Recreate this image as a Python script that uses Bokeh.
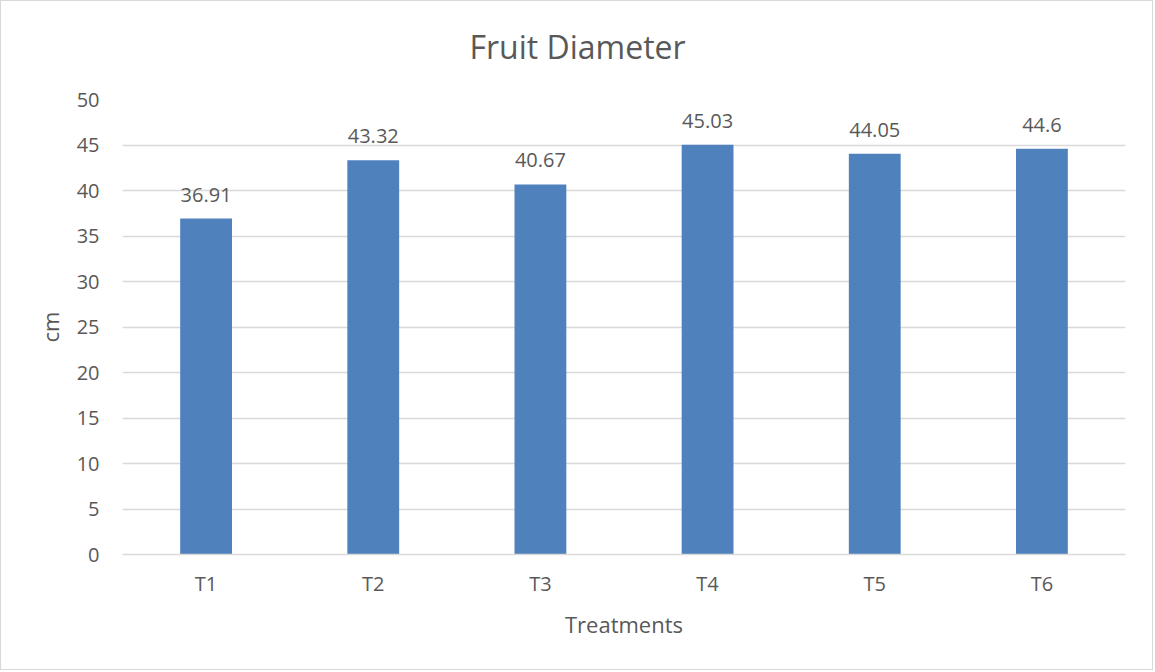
from bokeh.plotting import figure
from bokeh.models import ColumnDataSource, LabelSet, Title, FactorRange, Range1d, SingleIntervalTicker
from bokeh.core.properties import value
from bokeh.embed import file_html
from bokeh.resources import INLINE

treatments = ["T1", "T2", "T3", "T4", "T5", "T6"]
diameter = [36.91, 43.32, 40.67, 45.03, 44.05, 44.6]
labels = ["36.91", "43.32", "40.67", "45.03", "44.05", "44.6"]
title_text = "Fruit Diameter"

FONT = "Open Sans"
GRAY = "#595959"

src = ColumnDataSource(dict(x=treatments, y=diameter, lab=labels))

p = figure(width=1153, height=670, x_range=FactorRange(*treatments, range_padding=0),
           y_range=Range1d(0, 50), output_backend="svg", toolbar_location=None,
           min_border_left=121, min_border_right=29,
           min_border_top=98, min_border_bottom=117)
p.styles = {"border": "1px solid #d9d9d9"}

# white spacer right above the frame, then the chart title above it
spacer = Title(text=".", text_font_size="1px", text_color="white", standoff=10)
p.add_layout(spacer, "above")
main_title = Title(text=title_text, align="left", offset=347, text_font=FONT,
                   text_font_size="32px", text_font_style="normal", text_color=GRAY,
                   standoff=38)
p.add_layout(main_title, "above")

p.vbar(x="x", top="y", width=0.31, source=src, fill_color="#4F81BD", line_color=None)
p.add_layout(LabelSet(x="x", y="y", text="lab", source=src, y_offset=17,
                      text_align="center", text_baseline="alphabetic",
                      text_font=value(FONT), text_font_size="20px", text_color=GRAY))

p.outline_line_color = None
p.xgrid.grid_line_color = None
p.ygrid.grid_line_color = "#D9D9D9"
p.ygrid.grid_line_width = 1.3
p.yaxis.ticker = SingleIntervalTicker(interval=5)

for ax in (p.xaxis[0], p.yaxis[0]):
    ax.major_tick_line_color = None
    ax.minor_tick_line_color = None
    ax.major_tick_out = 0
    ax.major_tick_in = 0
    ax.minor_tick_out = 0
    ax.minor_tick_in = 0
    ax.major_label_text_font = FONT
    ax.major_label_text_font_size = "20px"
    ax.major_label_text_color = GRAY
    ax.axis_label_text_font = FONT
    ax.axis_label_text_font_size = "22px"
    ax.axis_label_text_font_style = "normal"
    ax.axis_label_text_color = GRAY

p.yaxis.axis_line_color = None
p.yaxis.major_label_standoff = 23
p.yaxis.axis_label = "cm"
p.yaxis.axis_label_standoff = 9

p.xaxis.axis_line_color = "#D9D9D9"
p.xaxis.axis_line_width = 1.3
p.xaxis.major_label_standoff = 15
p.xaxis.axis_label = "Treatments"
p.xaxis.axis_label_standoff = 9

open("out.html", "w").write(file_html(p, INLINE))
